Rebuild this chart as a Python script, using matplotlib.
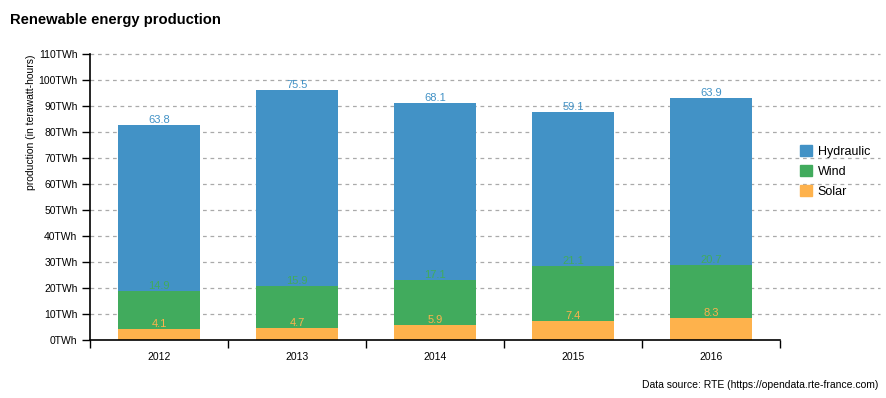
import matplotlib
matplotlib.use("Agg")
import matplotlib.pyplot as plt
import numpy as np
from matplotlib.patches import Patch

plt.rcParams['font.family'] = ['Liberation Sans', 'DejaVu Sans']

years = ['2012', '2013', '2014', '2015', '2016']
solar = [4.1, 4.7, 5.9, 7.4, 8.3]
wind = [14.9, 15.9, 17.1, 21.1, 20.7]
hydraulic = [63.8, 75.5, 68.1, 59.1, 63.9]
yticks = list(range(0, 111, 10))

c_hydro = '#4292c6'
c_wind = '#41ab5d'
c_solar = '#feb24c'

fig = plt.figure(figsize=(8.86, 3.98), dpi=100)
ax = fig.add_axes([90/886, 58/398, 690/886, 286/398])

x = np.arange(len(years))
solar = np.array(solar)
wind = np.array(wind)
hydraulic = np.array(hydraulic)

# grid lines run past the plot area, like in the original
for t in yticks[1:]:
    ax.axhline(t, xmin=0, xmax=(880-90)/690, color='#aaaaaa', lw=0.9,
               ls=(0, (3, 3)), clip_on=False, zorder=0)

series = [(solar, np.zeros(5), c_solar), (wind, solar, c_wind),
          (hydraulic, solar + wind, c_hydro)]
for vals, base, col in series:
    ax.bar(x, vals, bottom=base, width=0.6, color=col, zorder=2)
    for xi, v, b in zip(x, vals, base):
        ax.annotate(f'{v:.1f}', (xi, b + v), xytext=(0, 0), textcoords='offset points',
                    ha='center', va='bottom', color=col, fontsize=8, zorder=3)

ax.set_xlim(-0.5, 4.5)
ax.set_ylim(0, 110)
ax.set_yticks(yticks)
ax.set_yticklabels([f'{t}TWh' for t in yticks], fontsize=7.5)
ax.set_xticks(np.arange(-0.5, 5, 1))
ax.set_xticklabels([])
ax.set_xticks(x, minor=True)
ax.set_xticklabels(years, minor=True, fontsize=7.5)
ax.tick_params(axis='x', which='major', length=6, width=1)
ax.tick_params(axis='x', which='minor', length=0, pad=9)
ax.tick_params(axis='y', length=6, width=1, pad=3)
for s in ['top', 'right']:
    ax.spines[s].set_visible(False)
ax.spines['left'].set_linewidth(1.2)
ax.spines['bottom'].set_linewidth(1.2)
ax.set_ylabel('production (in terawatt-hours)', fontsize=7.5, loc='top')
ax.yaxis.set_label_coords((36 - 90) / 690, 1.0)

fig.text(10/886, 1 - 20/398, 'Renewable energy production', fontsize=10.6,
         fontweight='bold', va='center', ha='left')
fig.text(878/886, 1 - 385/398, 'Data source: RTE (https://opendata.rte-france.com)',
         fontsize=7.5, ha='right', va='center')

handles = [Patch(color=c_hydro, label='Hydraulic'),
           Patch(color=c_wind, label='Wind'),
           Patch(color=c_solar, label='Solar')]
fig.legend(handles=handles, loc='upper left', bbox_to_anchor=(789/886, 1 - 134/398),
           frameon=False, fontsize=9, handlelength=0.9, handleheight=0.9,
           handletextpad=0.5, labelspacing=0.6)

fig.savefig('out.png', dpi=100)
